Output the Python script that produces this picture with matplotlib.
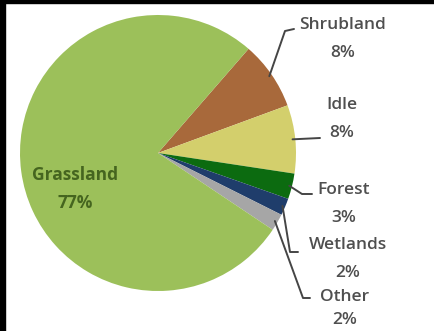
import numpy as np
import matplotlib.pyplot as plt
from matplotlib.patches import Rectangle

# land cover shares (percent), drawn clockwise from the shrubland edge
labels = ["Shrubland", "Idle", "Forest", "Wetlands", "Other", "Grassland"]
shares = [8, 8, 3, 2, 2, 77]
colors = ["#a8693b", "#d3cf6c", "#0c6b10", "#1f3d6b", "#a6a6a6", "#9cc05a"]

# label layout (pixels from top-left): text x, name y, percent y, elbow points
label_x = [343, 342, 344, 348, 345]
label_y = [25, 105, 190, 245, 297]
pct_y = [53, 133, 218, 273, 320]
elbows = [
    [(285, 31), (294, 29)],
    [(320, 138)],
    [(302, 194), (312, 194)],
    [(290, 252), (298, 252)],
    [(303, 298), (310, 298)],
]

W, H = 434, 331
fig = plt.figure(figsize=(W / 100, H / 100), dpi=100, facecolor="white")
ax = fig.add_axes([0, 0, 1, 1])

# dark frame on the left and top edges
fig.patches.append(Rectangle((0, 0), 5 / W, 1, transform=fig.transFigure, color="black", zorder=0))
fig.patches.append(Rectangle((0, 1 - 3 / H), 1, 3 / H, transform=fig.transFigure, color="black", zorder=0))

cx, cy, r = 158, H - 153, 138
wedges, _ = ax.pie(shares, colors=colors, startangle=49, counterclock=False,
                   center=(cx, cy), radius=r, frame=True,
                   wedgeprops=dict(linewidth=0))
ax.set_xlim(0, W)
ax.set_ylim(0, H)
ax.axis("off")

font = ["Open Sans", "DejaVu Sans"]
txt_color = "#4f4f4f"
line_color = "#454545"
fs = 12.5

for i, w in enumerate(wedges[:-1]):
    mid = np.deg2rad((w.theta1 + w.theta2) / 2)
    sx, sy = cx + 0.98 * r * np.cos(mid), cy + 0.98 * r * np.sin(mid)
    xs = [sx] + [p[0] for p in elbows[i]]
    ys = [sy] + [H - p[1] for p in elbows[i]]
    ax.plot(xs, ys, color=line_color, lw=1.4, solid_capstyle="round")
    ax.text(label_x[i], H - label_y[i], labels[i], ha="center", va="center",
            fontsize=fs, color=txt_color, family=font, fontweight="semibold")
    ax.text(label_x[i], H - pct_y[i], f"{shares[i]}%", ha="center", va="center",
            fontsize=fs, color=txt_color, family=font, fontweight="semibold")

# grassland label sits inside its own slice
ax.text(75, H - 175, labels[-1], ha="center", va="center",
        fontsize=fs, color="#45651f", family=font, fontweight="bold")
ax.text(75, H - 203, f"{shares[-1]}%", ha="center", va="center",
        fontsize=fs, color="#45651f", family=font, fontweight="bold")

fig.savefig("out.png", dpi=100, facecolor="white")
